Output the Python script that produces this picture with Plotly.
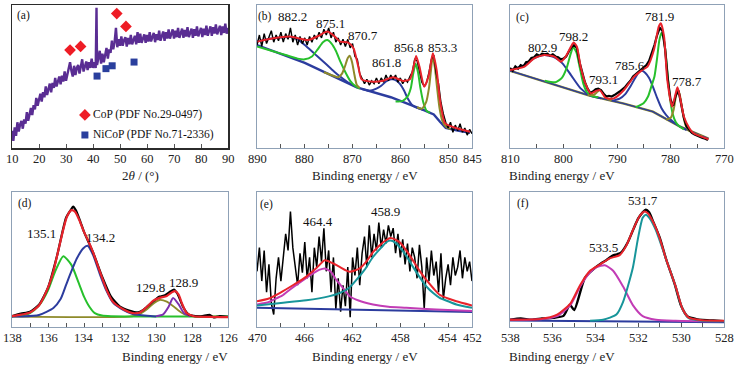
import plotly.graph_objects as go

# ---------------- (a) XRD ----------------
xrd_x = [10.0,10.5,11.0,11.5,12.0,12.5,13.0,13.5,14.0,14.5,15.0,15.5,16.0,16.5,17.0,17.5,18.0,18.5,19.0,19.5,
         20.0,20.5,21.0,21.5,22.0,22.5,23.0,23.5,24.0,24.5,25.0,25.5,26.0,26.5,27.0,27.5,28.0,28.5,29.0,29.5,
         30.0,30.5,31.0,31.5,32.0,32.5,33.0,33.5,34.0,34.5,35.0,35.5,36.0,36.5,37.0,37.5,38.0,38.5,39.0,39.5,
         40.0,40.5,41.0,41.3,41.5,42.0,42.5,43.0,43.5,44.0,44.5,45.0,45.5,46.0,46.5,47.0,47.5,48.0,48.5,49.0,49.5,
         50.0,50.5,51.0,51.5,52.0,52.5,53.0,53.5,54.0,54.5,55.0,55.5,56.0,56.5,57.0,57.5,58.0,58.5,59.0,59.5,
         60.0,60.5,61.0,61.5,62.0,62.5,63.0,63.5,64.0,64.5,65.0,65.5,66.0,66.5,67.0,67.5,68.0,68.5,69.0,69.5,
         70.0,70.5,71.0,71.5,72.0,72.5,73.0,73.5,74.0,74.5,75.0,75.5,76.0,76.5,77.0,77.5,78.0,78.5,79.0,79.5,
         80.0,80.5,81.0,81.5,82.0,82.5,83.0,83.5,84.0,84.5,85.0,85.5,86.0,86.5,87.0,87.5,88.0,88.5,89.0,89.5,90.0]
xrd_y = [12,5,14.5,8.5,18,11.5,16.5,19,13.5,20,17,25,19,24.5,28,23,30,27,35,29.5,
         35,38,32.5,39,35.5,43,37,42,45,39,45.5,42,49,43,47.5,50,44.5,50.5,46.5,53.5,
         47,51.5,54,60,54,50,57.5,51,56,58,52,58,62,53.5,58,60.5,54.5,60,56,62.5,
         56,60,56,98,58,62,68,59,66,60,65,70,62.5,69,66.5,75,69,74,84,70.5,76,
         71.5,78,71.5,75.5,77.5,71,77,72.5,79,72.5,76.5,78.5,72.5,81,73.5,80,73.5,77.5,79.5,73.5,
         79,74.5,81,74.5,78.5,80.5,74,79.5,75.5,82,75,79,81.5,75,81,76.5,83,76.5,80.5,83,
         76.5,82,77.5,84,77,81.5,83.5,77,82.5,78,84.5,77.5,81.5,83.5,77,83,78.5,85,78,82,
         84,77.5,83.5,79,85.5,78.5,83,85,78.5,84.5,80,86.5,79.5,83.5,85.5,79,85,80.5,87,80,84]
cop_x = [31.5, 35.4, 48.8, 52.2]
cop_y = [68.5, 71, 94, 85]
nicop_x = [41.5, 44.8, 47.1, 55.2]
nicop_y = [50.3, 55.5, 57.5, 60.1]

# ---------------- (b) Co 2p ----------------
b_data_y = [72,79,71,80,73,78,82,74,79,75,81,74,80,76,84,74,79,72,78,73,
            77,72,78,74,79,76,81,77,83,79,84,77,81,74,77,72,76,71,76,70,
            73,64,62,52,49,45,48,44,47,45,49,45,49,46,51,47,51,48,51,46,
            49,45,48,46,50,53,62,61,54,46,43,46,53,62,65,52,45,32,24,18,
            14,18,11,16,12,17,11,14,9,13,10]
b_data_x = [890 - 0.5 * i for i in range(len(b_data_y))]
b_fit_x = [889.9,886.6,883.1,879.3,877.2,875.3,873.7,872.6,870.9,869.8,868.8,868.1,865.6,863.6,861.5,859.4,858.0,857.3,856.7,856.0,855.0,854.1,853.2,852.4,851.7,850.6,848.2,845.4]
b_fit_y = [74.4,76.7,77.9,75.5,78.3,81.4,77.9,74.4,73.7,69.7,56.9,48.0,46.4,47.1,49.4,46.9,48.0,55.7,64.3,56.9,42.9,49.9,66.2,54.5,33.6,17.2,13.8,11.4]
b_bg_x = [890,880,869.1,862,855.2,853,851.7,850.5,848,845.4]
b_bg_y = [72,59.5,42.4,35.5,26.6,23.5,18.4,14,12.2,10.7]
b_p882_x = [890,887,885,883,881.5,880,878,876.5,874.5,873,871,869.1]
b_p882_y = [74.4,76.5,77.3,77.6,76,72,66,61.5,55.5,51,46,42.4]
b_p875_x = [890,887,884,881.5,880,878.5,877.3,876.2,875.3,874.4,873.5,872.5,871.5,870.5,869.5,868.5]
b_p875_y = [71,68,65,62.5,62,64,69,74,75.5,73,68,60,53,47,43.5,41.5]
b_p871_x = [876,874,873,872.2,871.6,871,870.6,870.1,869.6,869.1,868.5]
b_p871_y = [53,50.5,49.5,52,57,63,64.5,60,51,44,42]
b_p862_x = [868,866.5,865,864,863,862,861.5,860.8,860,859.2,858.5,857.5,856.5,855.2]
b_p862_y = [41.2,40,41.5,43.5,46.5,48,48,47,44.5,40,35,30,28,26.6]
b_p857_x = [861,859.5,858.5,857.8,857.3,856.8,856.3,855.8,855.2,854.5,853.8]
b_p857_y = [32.5,33,36,42,52,59,53,42,32,26,24.5]
b_p853_x = [856.5,855.5,854.6,854,853.6,853.25,852.8,852.3,851.8,851.2,850.5,849.5]
b_p853_y = [28.5,27.5,32,42,54,63.5,57,42,28,19,15,13.2]

# ---------------- (c) Ni 2p ----------------
c_data_y = [56,54,57,55.5,58,57,60,60.5,63,63.5,65.5,64.5,66,65.5,66,64.5,65.5,64,63.5,62,
            62.5,64,67.5,70.5,72,70,60,52,46,41.5,38.5,39.5,41,41.5,40.5,38,36,36.5,36,37,
            38,39.5,41,42.5,45,47,50,51.5,53.5,55,56,58,61,66,72,79,84,82,69,48,
            34,29.5,37,40,31,21,15,13,10.5,9.5,8.5,8,7,6.5,5.5]
c_data_x = [810 - 0.5 * i for i in range(len(c_data_y))]
c_fit_x = [810,807.3,805.5,803.6,801.7,800.5,799.6,798.6,798.1,797.5,796.8,795.8,794.9,793.8,793.2,792.1,790.6,788.7,786.8,785.3,784.3,783.1,782.2,781.8,781.2,780.6,779.7,779.1,778.7,778.2,777.5,776.5,775.7,772.9]
c_fit_y = [54.5,56.9,62.7,65,63.9,60.4,63.9,70.9,73.7,70.9,56.9,44.1,38.2,40.1,40.5,35,34.7,40.6,49.9,54.5,56.9,68.5,84.8,87.2,77.9,47.6,28.9,37,42.4,35,22,14,10.3,6.1]
c_bg_x = [810,795.3,788.7,783.3,778.2,775,772.9]
c_bg_y = [54,36.8,31,25.4,14.9,10,6.5]
c_p803_x = [810,807.3,805.5,803.6,801.7,800.2,798.6,796.8,794.9,793]
c_p803_y = [54.5,58,62.7,65,63.4,59.2,51,41.7,36.5,34.8]
c_p798_x = [803.5,801.5,800.3,799.4,798.8,798.2,797.6,797,796.3,795.6,794.8,793.5]
c_p798_y = [47,46,49,56,64,70.5,67,57,45,39,36.5,35.5]
c_p793_x = [795.5,794.3,793.6,793.1,792.6,791.8,790.8]
c_p793_y = [37,37.2,39.5,40.5,38,34.5,33]
c_p786_x = [791,789.5,788.5,787.5,786.6,785.8,785.3,784.7,784,783.3,782.5,781.7,780.8,780,779,778,777]
c_p786_y = [33,34.5,37.5,43,49,53.5,54,52.5,49,43,35,28,23,20,17,14.5,12.5]
c_p782_x = [786.5,785,784.2,783.5,783,782.5,782.1,781.7,781.3,780.9,780.5,780.1,779.6,779,778.3,777.5]
c_p782_y = [28.5,31.5,36,44,50,63,75,80.5,77,66,50,35,24,18,15,13]
c_p779_x = [780.8,780,779.4,779,778.6,778.2,777.7,777.2,776.5,775.5,774]
c_p779_y = [20,21,27,36,41,36,25,16,12,10,8]

# ---------------- (d) P 2p ----------------
d_data_x = [138,137.5,137,136.5,136,135.5,135,134.75,134.6,134.45,134.2,134,133.5,133,132.5,132,131.5,131,130.75,130.5,
            130,129.8,129.5,129.2,129,128.8,128.5,128.2,128,127.5,127,126.8,126.5,126]
d_data_y = [1.5,3.5,5,10.5,24,49,79,85,88,85,76,68,52,33,17,9,6,4.5,6,9,
            15,17,18,21,22.5,19,9,3,2,1.5,2.5,0.5,1.5,1]
d_fit_x = [138,137.5,137,136.5,136,135.7,135.4,135.15,134.95,134.7,134.5,134.25,134.0,133.8,133.5,133.1,132.75,132.4,131.8,131.3,
           130.9,130.5,130.15,129.8,129.4,129.1,128.95,128.75,128.55,128.3,127.9,127,126]
d_fit_y = [1.5,2.7,4.5,10,24,37,55,70,80,85.2,84,77,68,62,52,36,22.5,13,6.8,4,
           4.5,9,13.8,16,17.5,20.5,21.3,18.8,11.3,4,1.5,1,0.8]
d_p135_x = [138,137.5,137,136.5,136,135.6,135.15,134.7,134.3,134.0,133.7,133.4,133.0,132.5,126]
d_p135_y = [1.5,2,4,10,22,37,48.9,42,28,17,9,4,2,1.5,1.3]
d_p134_x = [138,137.5,136.5,135.7,135.3,135.0,134.7,134.4,134.05,133.8,133.5,133.1,132.75,132.4,131.8,131.3,130.5,130]
d_p134_y = [1.2,1.3,2.5,8,15,26,37,47,55,57.1,50,34,21.5,12.5,6.3,3.3,1.8,1.3]
d_p130_x = [138,131.5,131,130.5,130.1,129.8,129.4,129.0,128.6,128.2,127.8,126]
d_p130_y = [1.2,1.2,2.5,7,12,14.3,13,9,4.5,2,1.2,1.2]
d_p129_x = [130,129.6,129.3,129.05,128.75,128.45,128.1]
d_p129_y = [1.5,3,9,15.8,11,4,1.5]

# ---------------- (e) Ti 2p ----------------
e_data_y = [45,62,38,60,30,50,22,14,40,55,38,58,72,60,88,62,48,35,58,44,
            66,40,55,30,62,48,70,52,76,45,60,30,55,18,40,16,35,20,48,12,
            55,42,62,35,58,70,48,78,55,72,60,80,62,75,65,78,70,76,58,72,
            55,68,50,65,45,62,55,40,64,48,18,55,38,60,42,52,30,58,25,40,
            50,35,55,42,48,60,40,55,45,52,38]
e_data_x = [470 - 0.2 * i for i in range(len(e_data_y))]
e_fit_x = [470,469,468.1,467,465.87,465,464.33,463.7,463.08,462.24,461.4,460.8,460.29,459.7,459.17,458.84,458.4,458.05,457.5,456.94,456.4,455.82,455.2,454.71,454,453.31,452]
e_fit_y = [23.5,25.5,29.4,35,41.2,47.5,52.9,51,48.2,44.7,47.1,52.5,58.8,64,67.5,68.9,67.8,65.9,60,52.9,45.5,38.8,32.5,28.2,25.5,23.5,20.5]
e_bg_x = [470, 452]
e_bg_y = [18.8, 15.8]
e_p459_x = [470,468,465.87,464,463.08,462.3,461.68,461,460.29,459.6,459.17,458.84,458.4,458.05,457.5,456.94,456.4,455.82,455.2,454.71,454,453.31,452]
e_p459_y = [20.5,22.3,24.2,27,29.4,33,38.8,46,55.3,62,65.9,67.1,65.5,62.4,56,48.2,41,34.1,29,25.9,23.5,21.2,18.8]
e_p464_x = [470,469,468.6,467.9,467.26,466.5,465.9,465.31,464.8,464.33,463.8,463.36,462.8,462.24,461.5,460.29,459,457.5,455,452]
e_p464_y = [21.2,23,24.7,27.5,31.8,36.5,40,43.5,46,47.1,44.5,38.8,33,27.1,24,21.2,19.5,18.8,17.5,16.5]

# ---------------- (f) O 1s ----------------
f_data_x = [538,537.5,537,536.5,536,535.5,535.2,535,534.5,534,533.75,533.5,533.2,533,532.8,532.5,532.2,532,531.8,531.65,
            531.5,531.3,531,530.7,530.3,530,529.7,529.3,529,528.5,528]
f_data_y = [5.5,6.5,5.5,6.5,7,8.5,17,13,37.5,45.5,48.5,51,54.5,55.5,57,64.5,76,83,87.5,89.5,
            87.5,80,68,51.5,32.5,16,8,6,5.3,5,4.5]
f_fit_x = [538,536.57,535.8,535.18,534.72,534.26,533.8,533.34,532.88,532.57,532.26,531.95,531.72,531.57,531.34,531.03,530.72,530.26,529.95,529.65,529.03,528]
f_fit_y = [5.5,6.2,9.5,17.9,32.1,42.9,47.6,52.4,54.8,61.9,73.8,84.5,88.1,86.9,81,69,52.4,31,14.3,7.1,5.2,4.8]
f_bg_x = [538, 528]
f_bg_y = [5, 3.6]
f_p533_x = [538,536.57,535.8,535.18,534.72,534.26,533.95,533.57,533.18,532.72,532.26,531.8,531.18,530.26,528]
f_p533_y = [5.5,6,8.3,16.7,31,41.7,45.7,47.1,42.9,31,16.7,8.3,5.5,4.8,4.3]
f_p532_x = [534.26,533.65,533.03,532.72,532.26,532.03,531.8,531.65,531.49,531.18,530.72,530.26,529.95,529.65,529.03,528]
f_p532_y = [4.8,5.5,9.5,19,45.2,66.7,83.3,85.7,83.3,73.8,52.4,31,14.3,6.7,4.8,4.3]

RED = "#e8232b"; GREEN = "#27c02c"; OLIVE = "#8e8a2a"; BLUE = "#2c3c9e"
TEAL = "#17959a"; MAG = "#c23cb5"; PURP = "#7d2fae"; BLACK = "#000000"
FONT = "Liberation Serif, Times New Roman, DejaVu Serif, serif"

fig = go.Figure()

def add(ax, xs, ys, color, width=2.0, shape="spline"):
    fig.add_trace(go.Scatter(x=xs, y=ys, mode="lines", xaxis="x" + ax, yaxis="y" + ax,
                             line=dict(color=color, width=width, shape=shape, smoothing=0.6),
                             showlegend=False, hoverinfo="skip"))

# (a)
add("", xrd_x, xrd_y, "#5a2d93", 2.4, "linear")
fig.add_trace(go.Scatter(x=cop_x, y=cop_y, mode="markers", xaxis="x", yaxis="y",
                         marker=dict(symbol="diamond", color="#ee1c25", size=9), showlegend=False))
fig.add_trace(go.Scatter(x=nicop_x, y=nicop_y, mode="markers", xaxis="x", yaxis="y",
                         marker=dict(symbol="square", color="#2a3f9d", size=7), showlegend=False))
fig.add_trace(go.Scatter(x=[37], y=[23.1], mode="markers", xaxis="x", yaxis="y",
                         marker=dict(symbol="diamond", color="#ee1c25", size=9), showlegend=False))
fig.add_trace(go.Scatter(x=[37], y=[9.1], mode="markers", xaxis="x", yaxis="y",
                         marker=dict(symbol="square", color="#2a3f9d", size=7), showlegend=False))

# (b)
add("2", b_bg_x, b_bg_y, BLUE, 2.4, "linear")
add("2", b_p882_x, b_p882_y, BLUE, 2.0)
add("2", b_p875_x, b_p875_y, GREEN, 2.0)
add("2", b_p871_x, b_p871_y, OLIVE, 2.0)
add("2", b_p862_x, b_p862_y, BLUE, 2.0)
add("2", b_p857_x, b_p857_y, GREEN, 2.0)
add("2", b_p853_x, b_p853_y, OLIVE, 2.0)
add("2", b_data_x, b_data_y, BLACK, 1.4, "linear")
add("2", b_fit_x, b_fit_y, RED, 2.0)

# (c)
add("3", c_bg_x, c_bg_y, OLIVE, 2.4, "linear")
add("3", c_bg_x, c_bg_y, BLUE, 1.4, "linear")
add("3", c_p803_x, c_p803_y, BLUE, 2.0)
add("3", c_p798_x, c_p798_y, GREEN, 2.0)
add("3", c_p793_x, c_p793_y, OLIVE, 2.0)
add("3", c_p786_x, c_p786_y, BLUE, 2.0)
add("3", c_p782_x, c_p782_y, GREEN, 2.0)
add("3", c_p779_x, c_p779_y, OLIVE, 2.0)
add("3", c_data_x, c_data_y, BLACK, 2.2, "linear")
add("3", c_fit_x, c_fit_y, RED, 2.0)

# (d)
add("4", d_p130_x, d_p130_y, OLIVE, 1.8)
add("4", d_p135_x, d_p135_y, GREEN, 2.0)
add("4", d_p134_x, d_p134_y, BLUE, 2.0)
add("4", d_p129_x, d_p129_y, PURP, 2.0)
add("4", d_data_x, d_data_y, BLACK, 2.2)
add("4", d_fit_x, d_fit_y, RED, 2.2)

# (e)
add("5", e_data_x, e_data_y, BLACK, 1.5, "linear")
add("5", e_bg_x, e_bg_y, BLUE, 2.0, "linear")
add("5", e_p464_x, e_p464_y, MAG, 2.0)
add("5", e_p459_x, e_p459_y, TEAL, 2.0)
add("5", e_fit_x, e_fit_y, RED, 2.0)

# (f)
add("6", f_bg_x, f_bg_y, BLUE, 2.0, "linear")
add("6", f_data_x, f_data_y, BLACK, 2.4)
add("6", f_p533_x, f_p533_y, MAG, 2.0)
add("6", f_p532_x, f_p532_y, TEAL, 2.0)
add("6", f_fit_x, f_fit_y, RED, 2.0)

# axes
W, H = 738, 370
cols = [(12, 228), (257, 472), (510, 724)]
rows = [(5, 148), (192, 327)]
xranges = [[10, 90], [890, 845], [810, 770], [138, 126], [470, 452], [538, 528]]
yranges = [[0, 100], [0, 100], [0, 100], [-7, 99.5], [5, 102], [0, 103]]
a_ticks = [10, 20, 30, 40, 50, 60, 70, 80, 90]
b_ticks = [890, 885, 880, 875, 870, 865, 860, 855, 850, 845]
b_text = ["890", "", "880", "", "870", "", "860", "", "850", "845"]
c_ticks = [810, 805, 800, 795, 790, 785, 780, 775, 770]
c_text = ["810", "", "800", "", "790", "", "780", "", "770"]
d_ticks = [138, 137, 136, 135, 134, 133, 132, 131, 130, 129, 128, 127, 126]
d_text = ["138", "", "136", "", "134", "", "132", "", "130", "", "128", "", "126"]
e_ticks = [470, 468, 466, 464, 462, 460, 458, 456, 454, 452]
e_text = ["470", "", "466", "", "462", "", "458", "", "454", "452"]
f_ticks = [538, 537, 536, 535, 534, 533, 532, 531, 530, 529, 528]
f_text = ["538", "", "536", "", "534", "", "532", "", "530", "", "528"]
tickv = [a_ticks, b_ticks, c_ticks, d_ticks, e_ticks, f_ticks]
tickt = [[str(t) for t in a_ticks], b_text, c_text, d_text, e_text, f_text]

layout = {}
ann = []
for i in range(6):
    r, c = divmod(i, 3)
    x0, x1 = cols[c]
    y0, y1 = rows[r]
    suffix = "" if i == 0 else str(i + 1)
    lc = "#2b2b2b" if i == 0 else "#8fa1b6"
    lw = 1.5 if i == 0 else 1.2
    layout["xaxis" + suffix] = dict(domain=[x0 / W, x1 / W], range=xranges[i], anchor="y" + suffix,
                                    showline=True, mirror=True, linecolor=lc, linewidth=lw,
                                    ticks="inside", ticklen=4, tickcolor="#555", tickwidth=1,
                                    tickvals=tickv[i], showticklabels=False, showgrid=False,
                                    zeroline=False, automargin=False, fixedrange=True)
    layout["yaxis" + suffix] = dict(domain=[1 - y1 / H, 1 - y0 / H], range=yranges[i], anchor="x" + suffix,
                                    showline=True, mirror=True, linecolor=lc, linewidth=lw,
                                    ticks="", showticklabels=False, showgrid=False, zeroline=False,
                                    automargin=False, fixedrange=True)
    for v, t in zip(tickv[i], tickt[i]):
        if t:
            ann.append(dict(x=v, y=1 - (y1 + 11) / H, xref="x" + suffix, yref="paper", text=t,
                            showarrow=False, yanchor="middle",
                            font=dict(family=FONT, size=12.5, color="#222")))

def label(ax, x, y, text, size=12.5, anchor="center"):
    ann.append(dict(x=x, y=y, xref="x" + ax, yref="y" + ax, text=text, showarrow=False,
                    xanchor=anchor, font=dict(family=FONT, size=size, color="#111")))

label("", 14.3, 93, "(a)", 11.5)
label("", 39.4, 23.1, "CoP (PDF No.29-0497)", 11.5, "left")
label("", 39.4, 9.1, "NiCoP (PDF No.71-2336)", 11.5, "left")
label("2", 888.3, 92.3, "(b)", 11.5)
label("2", 882.5, 92.3, "882.2", 13)
label("2", 874.7, 87.4, "875.1", 13)
label("2", 867.8, 79, "870.7", 13)
label("2", 862.8, 60.1, "861.8", 13)
label("2", 858.2, 70.6, "856.8", 13)
label("2", 851.1, 70.6, "853.3", 13)
label("3", 807.6, 91.6, "(c)", 11.5)
label("3", 804.0, 70.6, "802.9", 13)
label("3", 798.2, 78.3, "798.2", 13)
label("3", 792.6, 47.6, "793.1", 13)
label("3", 787.6, 58, "785.6", 13)
label("3", 782.0, 92.3, "781.9", 13)
label("3", 776.9, 46.2, "778.7", 13)
label("4", 137.3, 90.2, "(d)", 11.5)
label("4", 136.35, 66.4, "135.1", 13)
label("4", 133.1, 63.9, "134.2", 13)
label("4", 130.33, 23.8, "129.8", 13)
label("4", 128.48, 28.3, "128.9", 13)
label("5", 469.2, 93, "(e)", 11.5)
label("5", 464.87, 81, "464.4", 13)
label("5", 459.28, 88, "458.9", 13)
label("6", 537.4, 94.5, "(f)", 11.5)
label("6", 533.65, 61, "533.5", 13)
label("6", 531.8, 96.5, "531.7", 13)

titles = ["2<i>θ</i> / (°)", "Binding energy / eV", "Binding energy / eV"]
for r, ty in enumerate([175, 356]):
    for c in range(3):
        x0, x1 = cols[c]
        ann.append(dict(x=(x0 + x1) / 2 / W, y=1 - ty / H, xref="paper", yref="paper",
                        text=titles[c] if r == 0 else "Binding energy / eV", showarrow=False,
                        font=dict(family=FONT, size=13, color="#222"), yanchor="middle"))

fig.update_layout(**layout)
fig.update_layout(width=W, height=H, margin=dict(l=0, r=0, t=0, b=0, pad=0),
                  paper_bgcolor="white", plot_bgcolor="white", annotations=ann, showlegend=False,
                  font=dict(family=FONT))
fig.write_html("out.html", config={"displayModeBar": False, "staticPlot": True},
               post_script="document.body.style.margin='0';document.body.style.padding='0';"
                           "document.documentElement.style.overflow='hidden';")
